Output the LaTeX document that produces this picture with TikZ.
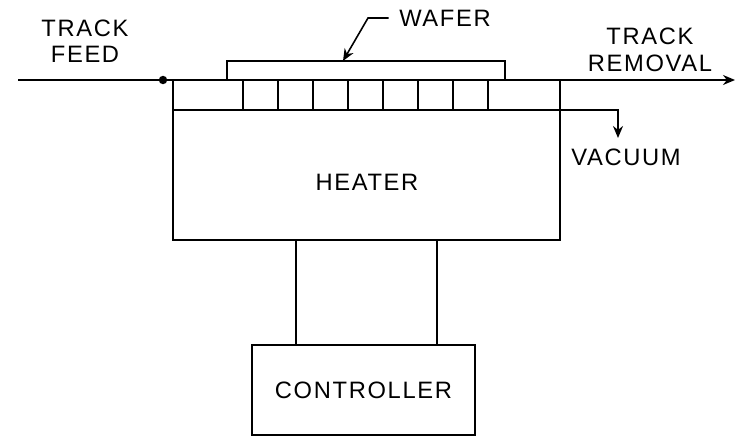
\documentclass[tikz,border=0pt]{standalone}
\usepackage{fontspec}
\setmainfont{Liberation Sans}[LetterSpace=7]
\usetikzlibrary{arrows.meta}
\begin{document}
\begin{tikzpicture}[x=0.02cm,y=-0.02cm,line width=0.9pt,
  box/.style={draw,rectangle,inner sep=0pt},
  lbl/.style={font=\fontsize{13.5}{15}\selectfont,align=center,inner sep=0pt},
  >={Stealth[length=2.4mm,width=2mm]}]
\useasboundingbox (0,0) rectangle (737,438);
% heater with the wafer on top
\node[box,minimum width=7.74cm,minimum height=3.2cm] (heater) at (366.5,160) {};
\node[lbl] (heaterlbl) at (367,182) {HEATER};
\node[box,minimum width=5.56cm,minimum height=0.38cm] (wafer) at (366,70.5) {};
\coordinate (stripL) at (173,110);
\coordinate (vac) at (618,110);
\draw[->] (stripL) -- (vac) -- ++(0,28);
\foreach \x in {243,278,...,488}
  \draw (\x,80) -- (\x,110);
% track
\coordinate (feed) at (18,80);
\coordinate (removal) at (735,80);
\draw[->] (feed) -- (removal);
\fill (163,80) circle (2.4pt);
\node[lbl] (feedlbl) at (85,41) {TRACK\\FEED};
\node[lbl] (removallbl) at (650,50) {TRACK\\REMOVAL};
\node[lbl] (vaclbl) at (626,157) {VACUUM};
% wafer label
\node[lbl] (waferlbl) at (445,18) {WAFER};
\coordinate (wtip) at (343,61);
\draw[->] ([xshift=-0.2cm]waferlbl.west) -- (368,18) -- (wtip);
% controller
\node[box,minimum width=4.46cm,minimum height=1.8cm] (ctrl) at (363.5,390) {};
\node[lbl] (ctrllbl) at (ctrl) {CONTROLLER};
\coordinate (wl) at (296,300);
\coordinate (wr) at (437,300);
\draw (wl |- heater.south) -- (wl |- ctrl.north);
\draw (wr |- heater.south) -- (wr |- ctrl.north);
\end{tikzpicture}
\end{document}
